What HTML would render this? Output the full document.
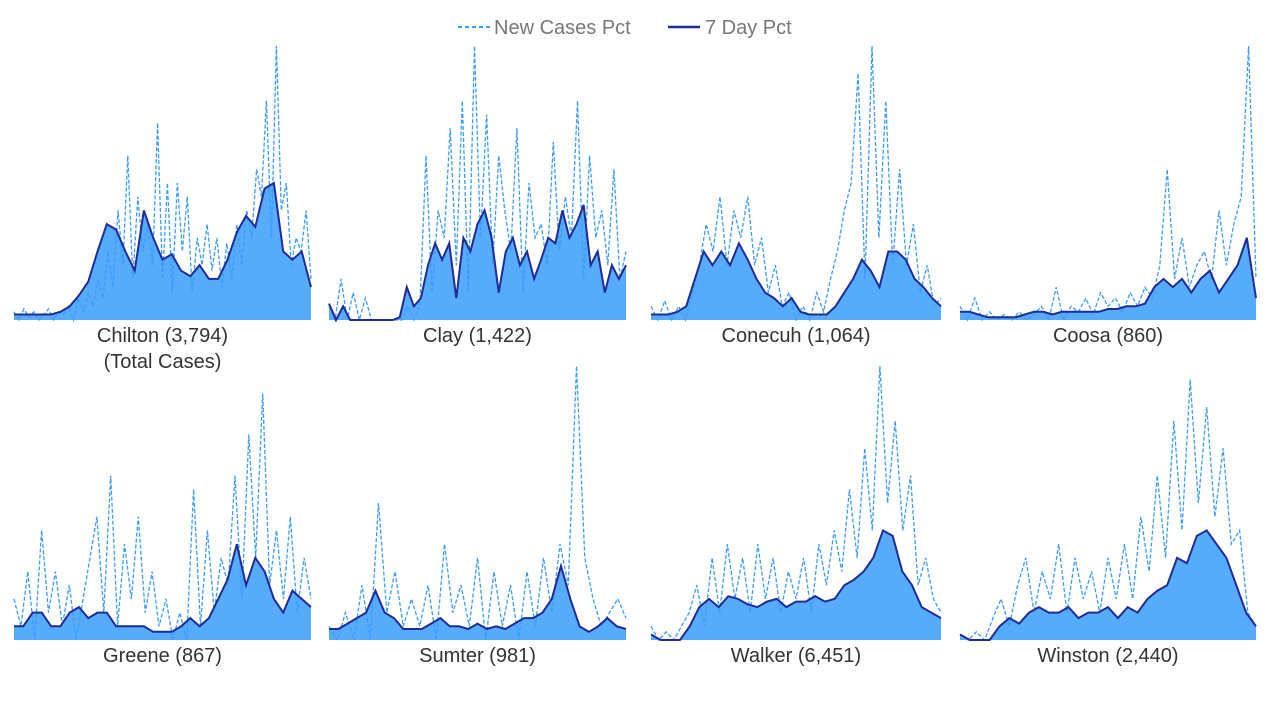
<!DOCTYPE html>
<html><head><meta charset="utf-8"><style>
body{margin:0;background:#fff;width:1280px;height:720px;overflow:hidden;font-family:"Liberation Sans",sans-serif}
</style></head><body>
<svg id="chart" width="1280" height="720" xmlns="http://www.w3.org/2000/svg">
<g>
<line x1="458" y1="27" x2="490" y2="27" stroke="#3a9cf7" stroke-width="2" stroke-dasharray="4 3"/>
<text x="494" y="34" font-size="20" fill="#777">New Cases Pct</text>
<line x1="668" y1="27" x2="700" y2="27" stroke="#1f2b96" stroke-width="2.5"/>
<text x="705" y="34" font-size="20" fill="#777">7 Day Pct</text>
</g>
</svg>
<script>
const titles=["Chilton (3,794)","Clay (1,422)","Conecuh (1,064)","Coosa (860)","Greene (867)","Sumter (981)","Walker (6,451)","Winston (2,440)"];
const newCases=[
[3,0,4,1,3,0,2,4,0,3,2,5,0,8,3,10,5,15,8,25,12,40,20,60,15,45,25,35,20,72,15,50,10,50,25,45,10,30,20,35,18,30,12,28,15,35,20,40,30,55,45,80,30,100,40,50,20,30,25,40,15],
[5,0,15,0,10,0,8,0,0,0,0,0,0,5,0,5,60,10,40,30,70,20,80,10,100,30,75,20,60,40,25,70,10,50,30,35,20,65,25,45,30,80,15,60,30,40,20,55,15,25],
[5,0,7,0,5,0,10,20,35,25,45,20,40,30,45,20,30,10,20,5,10,0,5,0,10,3,15,25,40,50,90,15,100,30,80,20,55,20,35,10,20,5,8],
[5,0,8,0,3,0,2,0,3,0,2,5,0,12,0,5,3,8,2,10,5,8,3,10,5,12,8,20,55,15,30,12,20,25,15,40,20,35,45,100,15],
[15,5,25,0,40,10,25,5,20,0,15,30,45,10,60,5,35,15,45,10,25,5,15,0,10,0,55,5,40,10,30,20,60,15,75,30,90,20,40,15,45,10,30,15],
[5,0,10,0,20,0,50,10,25,5,15,5,20,0,35,10,20,5,30,0,25,5,20,0,25,5,30,10,35,20,100,30,15,5,10,15,8],
[5,0,3,0,5,10,20,5,30,10,35,15,30,10,35,15,30,10,25,15,30,10,35,20,40,25,55,30,70,40,100,50,80,40,60,20,30,15,10],
[2,0,3,0,8,15,5,20,30,10,25,15,35,10,30,15,25,10,30,15,35,15,45,25,60,30,80,40,95,50,85,45,70,35,40,10,5]];
const sevenDay=[
[2,2,2,2,2,3,5,9,14,25,35,33,25,18,40,30,22,24,18,16,20,15,15,22,32,38,34,48,50,25,22,25,12],
[6,0,5,0,0,0,0,0,0,0,1,12,5,8,20,28,22,28,8,30,25,35,40,30,10,25,30,20,25,15,22,30,28,40,30,35,42,20,25,10,20,15,20],
[2,2,2,3,5,15,25,20,25,20,28,22,15,10,8,5,8,3,2,2,2,5,10,15,22,18,12,25,25,22,15,12,8,5],
[3,3,2,1,1,1,1,2,3,3,2,3,3,3,3,3,4,4,5,5,6,12,15,12,15,10,15,18,10,15,20,30,8],
[5,5,10,10,5,5,10,12,8,10,10,5,5,5,5,3,3,3,5,8,5,8,15,22,35,20,30,25,15,10,18,15,12],
[4,4,6,8,10,18,10,8,4,4,4,6,8,5,5,4,6,4,5,4,6,8,8,10,15,27,15,5,3,5,8,5,4],
[2,0,0,0,5,12,15,12,16,15,13,12,14,15,12,14,14,16,14,15,20,22,25,30,40,38,25,20,12,10,8],
[2,0,0,0,5,8,6,10,12,10,10,12,8,10,10,12,8,12,10,15,18,20,30,28,38,40,35,30,20,10,5]];
const NS="http://www.w3.org/2000/svg";
const svg=document.getElementById('chart');
const panels=[[14,311],[329,626],[651,941],[960,1256]];
function mk(t,a){const e=document.createElementNS(NS,t);for(const k in a)e.setAttribute(k,a[k]);return e;}
titles.forEach((title,i)=>{
  const [x0,x1]=panels[i%4];const base=i<4?320:640;const H=274;
  const xs=(j,n)=>x0+(x1-x0)*j/(n-1);const ys=v=>base-H*v/100;
  const g=mk('g',{});
  
  
  const s=sevenDay[i],nc=newCases[i];
  let d='M'+x0+','+base;s.forEach((v,j)=>d+=' L'+xs(j,s.length).toFixed(1)+','+ys(v).toFixed(1));d+=' L'+x1+','+base+'Z';
  const area=mk('path',{d:d,fill:'#56acfb'});
  
  
  g.appendChild(area);
  const pn=nc.map((v,j)=>xs(j,nc.length).toFixed(1)+','+ys(v).toFixed(1)).join(' ');
  const l1=mk('polyline',{points:pn,fill:'none',stroke:'#3a9cf7','stroke-width':1.3,'stroke-dasharray':'4 2'});
  
  
  g.appendChild(l1);
  const ps=s.map((v,j)=>xs(j,s.length).toFixed(1)+','+ys(v).toFixed(1)).join(' ');
  const l2=mk('polyline',{points:ps,fill:'none',stroke:'#1f2b96','stroke-width':2});
  
  
  g.appendChild(l2);
  const t=mk('text',{x:(x0+x1)/2,y:base+22,'text-anchor':'middle','font-size':20,fill:'#333'});
  t.textContent=title;
  
  
  g.appendChild(t);
  if(i===0){const t2=mk('text',{x:(x0+x1)/2,y:base+48,'text-anchor':'middle','font-size':20,fill:'#333'});t2.textContent='(Total Cases)';
  
  
  g.appendChild(t2);}
  svg.appendChild(g);
});
</script>
</body></html>
